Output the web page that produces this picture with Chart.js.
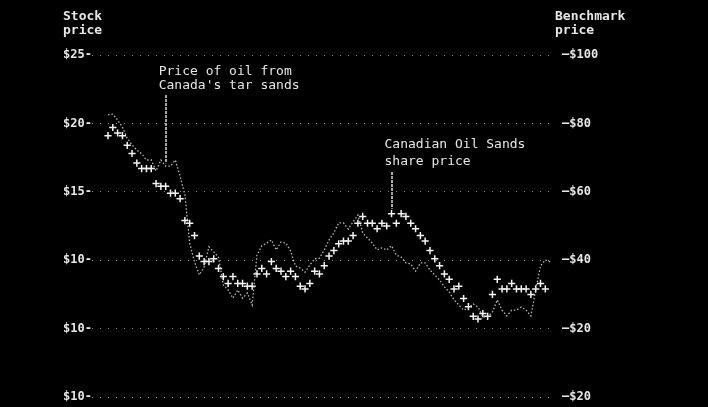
<!DOCTYPE html>
<html>
<head>
<meta charset="utf-8">
<script src="https://cdn.jsdelivr.net/npm/chart.js@4.4.1/dist/chart.umd.min.js"></script>
<style>
  html, body { margin: 0; padding: 0; background: #000; }
  #wrap { width: 708px; height: 407px; }
</style>
</head>
<body>
<div id="wrap"><canvas id="myChart" width="708" height="407"></canvas></div>
<script>
// share price (left axis, $) and oil benchmark (right axis, $), one value per column
const sharePrice = [
  19.1, 19.7, 19.3, 19.1, 18.4, 17.8, 17.1, 16.7, 16.7, 16.7,
  15.6, 15.4, 15.4, 14.9, 14.9, 14.5, 12.9, 12.7, 11.8, 10.3,
  9.9, 9.9, 10.1, 9.4, 8.8, 8.3, 8.8, 8.3, 8.3, 8.1,
  8.1, 9.0, 9.4, 9.0, 9.9, 9.4, 9.2, 8.8, 9.2, 8.8,
  8.1, 7.9, 8.3, 9.2, 9.0, 9.6, 10.3, 10.7, 11.2, 11.4,
  11.4, 11.8, 12.7, 13.2, 12.7, 12.7, 12.3, 12.7, 12.5, 13.4,
  12.7, 13.4, 13.2, 12.7, 12.3, 11.8, 11.4, 10.7, 10.1, 9.6,
  9.0, 8.6, 7.9, 8.1, 7.2, 6.6, 5.9, 5.7, 6.1, 5.9,
  7.5, 8.6, 7.9, 7.9, 8.3, 7.9, 7.9, 7.9, 7.5, 7.9,
  8.3, 7.9, null
];
const oilPrice = [
  82.5, 82.7, 81.0, 78.9, 75.7, 73.7, 72.2, 71.1, 69.3, 69.3,
  66.1, 69.3, 67.5, 67.5, 69.3, 64.6, 59.1, 45.0, 39.5, 35.7,
  38.0, 43.9, 42.4, 40.9, 32.7, 31.3, 28.9, 31.3, 28.9, 30.4,
  26.9, 41.5, 44.2, 45.0, 45.9, 43.0, 45.3, 45.0, 42.7, 38.3,
  37.7, 36.5, 38.6, 40.4, 40.6, 43.0, 45.9, 48.0, 50.9, 50.9,
  49.1, 51.2, 53.2, 48.0, 46.5, 45.0, 43.0, 43.6, 43.0, 44.2,
  41.5, 40.9, 39.2, 38.9, 36.8, 39.2, 39.2, 37.1, 35.7, 34.2,
  32.2, 30.7, 28.4, 26.9, 25.4, 26.0, 27.2, 26.3, 23.4, 23.4,
  24.9, 28.4, 25.4, 23.7, 25.4, 25.4, 26.3, 25.4, 23.7, 31.3,
  38.3, 40.1, 39.5
];
// tick labels as printed on the original (bottom to top)
const leftTicks = ['$10', '$10', '$10', '$15', '$20', '$25'];
const rightTicks = ['$20', '$20', '$40', '$60', '$80', '$100'];

const FONT = '"DejaVu Sans Mono", "Liberation Mono", monospace';
const TXT = '#e6e6e6';

const titles = {
  id: 'titles',
  afterDraw(chart) {
    const c = chart.ctx;
    const x = chart.scales.x;
    const yL = chart.scales.y;
    const yR = chart.scales.y2;
    c.save();
    c.fillStyle = TXT;
    c.font = 'bold 13px ' + FONT;
    c.textBaseline = 'middle';
    c.textAlign = 'left';
    c.fillText('Stock', 63, 17);
    c.fillText('price', 63, 31);
    c.fillText('Benchmark', 555, 17);
    c.fillText('price', 555, 31);

    // annotation 1 : oil price
    c.font = '13px ' + FONT;
    const ax = x.getPixelForValue(12);
    const ay = yR.getPixelForValue(oilPrice[12]);
    c.fillText('Price of oil from', ax - 7, 72);
    c.fillText("Canada's tar sands", ax - 7, 86);
    // annotation 2 : share price
    const bx = x.getPixelForValue(59);
    const by = yL.getPixelForValue(sharePrice[59]);
    c.fillText('Canadian Oil Sands', bx - 7, 145);
    c.fillText('share price', bx - 7, 162);

    c.strokeStyle = '#a8a8a8';
    c.lineWidth = 2;
    c.setLineDash([3, 1]);
    c.beginPath();
    c.moveTo(Math.round(ax), 95);
    c.lineTo(Math.round(ax), ay - 3);
    c.moveTo(Math.round(bx), 172);
    c.lineTo(Math.round(bx), by - 5);
    c.stroke();
    c.restore();
  }
};

const ctx = document.getElementById('myChart');
const chart = new Chart(ctx, {
  type: 'line',
  data: {
    datasets: [
      {
        label: 'Benchmark',
        data: oilPrice.map((v, i) => ({ x: i, y: v })),
        yAxisID: 'y2',
        borderColor: 'rgba(205,205,205,0.9)',
        borderWidth: 1.3,
        borderDash: [1.5, 2],
        pointRadius: 0,
        tension: 0
      },
      {
        label: 'Share price',
        data: sharePrice.map((v, i) => ({ x: i, y: v })),
        yAxisID: 'y',
        showLine: false,
        pointStyle: 'cross',
        pointRadius: 3.6,
        pointBorderWidth: 1.5,
        borderColor: '#f4f4f4',
        backgroundColor: '#f4f4f4'
      }
    ]
  },
  options: {
    responsive: false,
    animation: false,
    layout: { padding: { top: 55, bottom: 10, left: 0, right: 0 } },
    plugins: { legend: { display: false }, tooltip: { enabled: false } },
    scales: {
      x: {
        type: 'linear',
        display: false,
        min: -3.33,
        max: 92.6
      },
      y: {
        position: 'left',
        min: 0,
        max: 25,
        border: { display: false, dash: [1, 7] },
        grid: {
          color: '#8a8a8a',
          lineWidth: 1,
          drawTicks: false
        },
        ticks: {
          stepSize: 5,
          padding: 0,
          color: TXT,
          font: { family: FONT, size: 12, weight: 'bold' },
          callback: (v) => leftTicks[v / 5] + '-'
        },
        afterFit: (s) => { s.width = 92; }
      },
      y2: {
        position: 'right',
        min: 0,
        max: 100,
        border: { display: false },
        grid: { display: false },
        ticks: {
          stepSize: 20,
          padding: 1,
          color: TXT,
          font: { family: FONT, size: 12, weight: 'bold' },
          callback: (v) => '\u2013' + rightTicks[v / 20]
        },
        afterFit: (s) => { s.width = 155; }
      }
    }
  },
  plugins: [titles]
});
</script>
</body>
</html>
